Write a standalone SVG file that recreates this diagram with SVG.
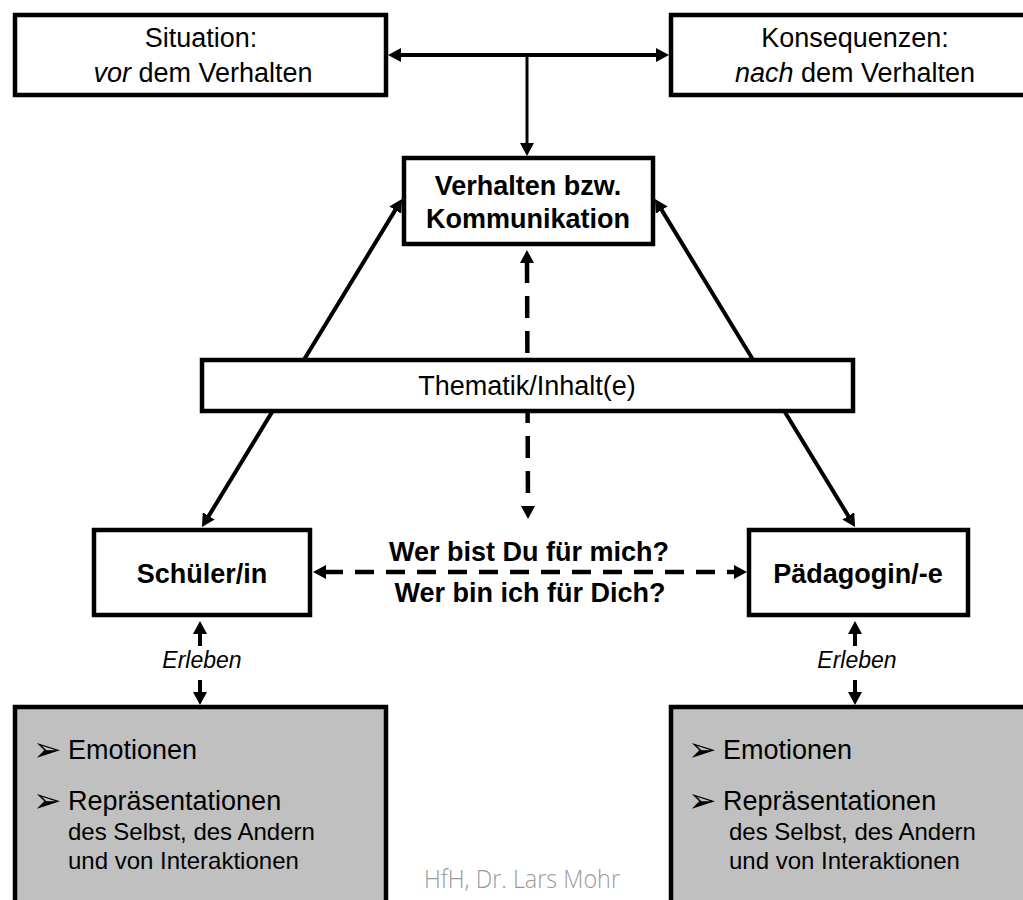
<svg xmlns="http://www.w3.org/2000/svg" width="1023" height="900" viewBox="0 0 1023 900">
<style>
.box{fill:#fff;stroke:#000;stroke-width:4.5}
.gray{fill:#c0c0c0;stroke:#000;stroke-width:4.5}
.t{font-family:"Liberation Sans",Arial,sans-serif;font-size:27px;fill:#000}
.c{text-anchor:middle}
.b{font-weight:bold}
.i{font-style:italic}
.sub{font-size:24px}
.bul{font-family:"DejaVu Sans",sans-serif;font-size:34px;fill:#000}
.ln{stroke:#000;fill:none;stroke-width:4}
.dash{stroke:#000;fill:none;stroke-width:4.5;stroke-dasharray:19 12}
.foot{font-family:"Open Sans",sans-serif;font-size:26px;font-weight:300;fill:#9a9a9a}
</style>
<defs>
<marker id="ah" markerUnits="userSpaceOnUse" markerWidth="14" markerHeight="14" refX="2" refY="7" orient="auto-start-reverse">
<path d="M0,0 L13,7 L0,14 z" fill="#000"/>
</marker>
</defs>
<rect width="1023" height="900" fill="#fff"/>
<g id="connectors">
<line class="ln" x1="399" y1="55" x2="658" y2="55" marker-start="url(#ah)" marker-end="url(#ah)"/>
<line class="ln" style="stroke-width:3" x1="527" y1="55" x2="527" y2="145" marker-end="url(#ah)"/>
<line class="ln" x1="207.7" y1="517.6" x2="396.3" y2="208.4" marker-start="url(#ah)" marker-end="url(#ah)"/>
<line class="ln" x1="849.3" y1="517.6" x2="660.7" y2="208.4" marker-start="url(#ah)" marker-end="url(#ah)"/>
<line class="dash" style="stroke-dasharray:22 13" x1="527" y1="261" x2="528" y2="508" marker-start="url(#ah)" marker-end="url(#ah)"/>
<line class="dash" x1="324" y1="572" x2="736" y2="572" marker-start="url(#ah)" marker-end="url(#ah)"/>
<line class="ln" x1="200" y1="646" x2="200" y2="632" marker-end="url(#ah)"/>
<line class="ln" x1="200" y1="680" x2="200" y2="694" marker-end="url(#ah)"/>
<line class="ln" x1="855" y1="646" x2="855" y2="632" marker-end="url(#ah)"/>
<line class="ln" x1="855" y1="680" x2="855" y2="694" marker-end="url(#ah)"/>
<text class="t c b" x="529" y="561">Wer bist Du für mich?</text>
<text class="t c b" x="530" y="602">Wer bin ich für Dich?</text>
<text class="t c i" style="font-size:23px" x="202" y="668">Erleben</text>
<text class="t c i" style="font-size:23px" x="857" y="668">Erleben</text>
</g>
<g id="situation">
<rect class="box" x="15" y="15" width="371" height="80"/>
<text class="t c" x="201" y="47">Situation:</text>
<text class="t c" x="203" y="82"><tspan class="i">vor</tspan> dem Verhalten</text>
</g>
<g id="konsequenzen">
<rect class="box" x="671" y="15" width="400" height="80"/>
<text class="t c" x="855" y="47">Konsequenzen:</text>
<text class="t c" x="855" y="82"><tspan class="i">nach</tspan> dem Verhalten</text>
</g>
<g id="verhalten">
<rect class="box" x="404" y="158" width="249" height="86"/>
<text class="t c b" x="528" y="195">Verhalten bzw.</text>
<text class="t c b" x="528" y="228">Kommunikation</text>
</g>
<g id="thematik">
<rect class="box" x="202" y="360" width="651" height="51"/>
<text class="t c" x="527" y="395">Thematik/Inhalt(e)</text>
</g>
<g id="schueler">
<rect class="box" x="94" y="530" width="216" height="85"/>
<text class="t c b" x="202" y="583">Schüler/in</text>
</g>
<g id="paedagogin">
<rect class="box" x="749" y="530" width="219" height="85"/>
<text class="t c b" x="858" y="583">Pädagogin/-e</text>
</g>
<g id="erleben-schueler">
<rect class="gray" x="15" y="707" width="371" height="250"/>
<text class="bul" x="33" y="761">➢</text>
<text class="t" x="68" y="759">Emotionen</text>
<text class="bul" x="33" y="812">➢</text>
<text class="t" x="68" y="810">Repräsentationen</text>
<text class="t sub" x="68" y="840">des Selbst, des Andern</text>
<text class="t sub" x="68" y="869">und von Interaktionen</text>
</g>
<g id="erleben-paedagogin">
<rect class="gray" x="671" y="707" width="400" height="250"/>
<text class="bul" x="688" y="761">➢</text>
<text class="t" x="723" y="759">Emotionen</text>
<text class="bul" x="688" y="812">➢</text>
<text class="t" x="723" y="810">Repräsentationen</text>
<text class="t sub" x="729" y="840">des Selbst, des Andern</text>
<text class="t sub" x="729" y="869">und von Interaktionen</text>
</g>
<text class="foot" x="424" y="888" textLength="196" lengthAdjust="spacingAndGlyphs">HfH, Dr. Lars Mohr</text>
</svg>
